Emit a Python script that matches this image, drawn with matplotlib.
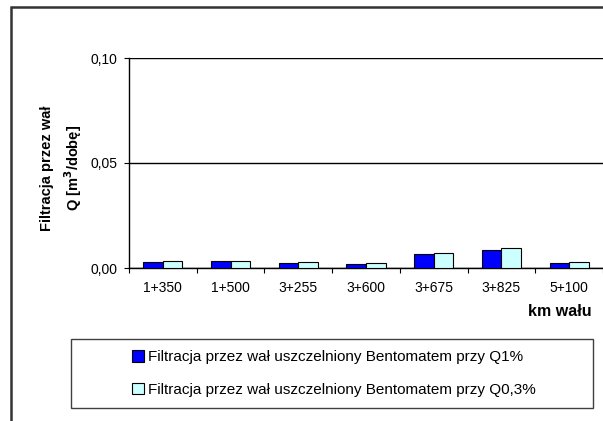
import matplotlib
matplotlib.use("Agg")
import matplotlib.pyplot as plt
import matplotlib.patches as mpatches
import numpy as np

plt.rcParams['font.family'] = ['Liberation Sans', 'DejaVu Sans']

categories = ["1+350", "1+500", "3+255", "3+600", "3+675", "3+825", "5+100"]
q1 = [0.0027, 0.0032, 0.0022, 0.0017, 0.0066, 0.0085, 0.0022]
q03 = [0.0032, 0.0032, 0.0027, 0.0022, 0.0071, 0.0097, 0.0027]
labels = ["Filtracja przez wał uszczelniony Bentomatem przy Q1%",
          "Filtracja przez wał uszczelniony Bentomatem przy Q0,3%"]
yticks = [0.0, 0.05, 0.10]
ytick_labels = ["0,00", "0,05", "0,10"]

W, H = 603, 421
fig = plt.figure(figsize=(W / 100, H / 100), dpi=100)
ax = fig.add_axes([129 / W, 1 - 268 / H, (W - 129) / W, (268 - 58) / H])

x = np.arange(len(categories))
bw = 0.29
b1 = ax.bar(x - bw / 2, q1, bw, color="#0000FF", edgecolor="black", linewidth=0.8, zorder=3)
b2 = ax.bar(x + bw / 2, q03, bw, color="#CCFFFF", edgecolor="black", linewidth=0.8, zorder=3)

ax.set_xlim(-0.5, len(categories) - 0.5)
ax.set_ylim(0, 0.10)

ax.set_yticks(yticks)
ax.set_yticklabels(ytick_labels, fontsize=10)
ax.yaxis.grid(True, color="black", linewidth=1)
ax.tick_params(axis="y", direction="out", length=3.5, width=0.8, pad=5)

ax.set_xticks(np.arange(len(categories) + 1) - 0.5)
ax.set_xticklabels([])
ax.set_xticks(x, minor=True)
ax.set_xticklabels(categories, minor=True, fontsize=10)
ax.tick_params(axis="x", which="major", direction="out", length=3.5, width=0.8)
ax.tick_params(axis="x", which="minor", length=0, pad=9)

for s in ["top", "right"]:
    ax.spines[s].set_visible(False)
ax.spines["left"].set_linewidth(1)
ax.spines["bottom"].set_linewidth(1)

fig.text(47 / W, 1 - 168 / H, "Filtracja przez wał", rotation=90, ha="center", va="center",
         fontsize=10.5, fontweight="bold")
fig.text(73 / W, 1 - 168 / H, "Q [m$^\\mathbf{3}$/dobę]", rotation=90, ha="center", va="center",
         fontsize=10.5, fontweight="bold")
fig.text(592 / W, 1 - 312 / H, "km wału", ha="right", va="center", fontsize=11.5, fontweight="bold")

# legend box
fig.patches.append(mpatches.Rectangle((71 / W, 1 - 408 / H), (593 - 71) / W, (408 - 339) / H,
                                      transform=fig.transFigure, fill=False,
                                      edgecolor="#404040", linewidth=1))
fig.legend([b1, b2], labels, loc="center", bbox_to_anchor=(334 / W, 1 - 373.5 / H),
           frameon=False, fontsize=11, handlelength=0.75, handleheight=0.75,
           handletextpad=0.3, labelspacing=1.2)

# outer chart border
fig.patches.append(mpatches.Rectangle((11 / W, -0.1), 1.0, 1.1 - 7 / H,
                                      transform=fig.transFigure, fill=False,
                                      edgecolor="#333333", linewidth=1.8))

fig.savefig("out.png", dpi=100)
